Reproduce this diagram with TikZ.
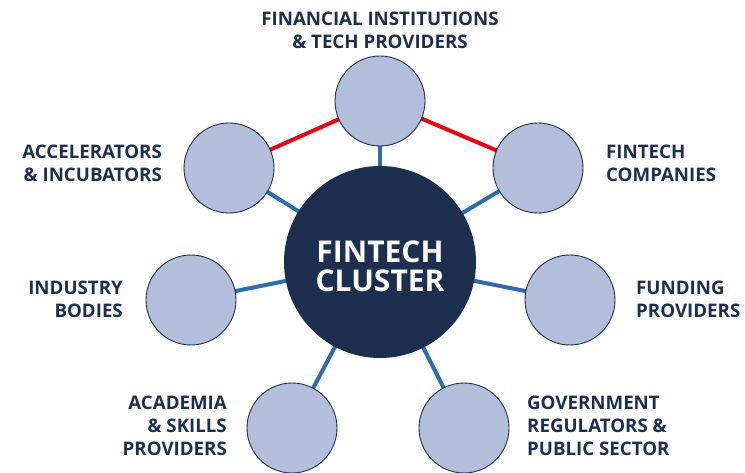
\documentclass[tikz,border=0pt]{standalone}
\usepackage{fontspec}
\setmainfont{Open Sans}
\usepackage{tikz}
\usetikzlibrary{positioning}
\usetikzlibrary{backgrounds}

\definecolor{clusternavy}{HTML}{1C2F4F}
\definecolor{spokefill}{HTML}{B3BEDB}
\definecolor{spokeblue}{HTML}{2E6DA8}
\definecolor{linkred}{HTML}{E30613}

\begin{document}
\begin{tikzpicture}[x=1pt, y=-1pt,
hubnode/.style={circle, fill=clusternavy, minimum size=192pt, inner sep=0pt},
hubtext/.style={inner sep=0pt, text=white, font=\bfseries\fontsize{30}{29}\selectfont, align=center},
spokenode/.style={circle, draw=clusternavy, fill=spokefill, line width=0.9pt, minimum size=90pt, inner sep=0pt},
labelnode/.style={inner sep=0pt, text=clusternavy, font=\bfseries\fontsize{18.7}{22.7}\selectfont},
spokeline/.style={draw=spokeblue, line width=4pt},
redline/.style={draw=linkred, line width=4pt},
]
\useasboundingbox (0,0) rectangle (745,473);

%Nodes
\node[hubnode]   (cluster) at (380,262) {};
\node[hubtext]   (hubtxt)  at (380,266) {FINTECH\\CLUSTER};
\node[spokenode] (fin)     at (380,101) {};
\node[spokenode] (acc)     at (229,168) {};
\node[spokenode] (comp)    at (538,168) {};
\node[spokenode] (ind)     at (191,300) {};
\node[spokenode] (fund)    at (570,300) {};
\node[spokenode] (acad)    at (292,428) {};
\node[spokenode] (gov)     at (464,428) {};

%Labels
\node[labelnode, align=center]             (finlbl)  at (380,30)  {FINANCIAL INSTITUTIONS\\\& TECH PROVIDERS};
\node[labelnode, align=right, anchor=east] (acclbl)  at (162,163) {ACCELERATORS\\\& INCUBATORS};
\node[labelnode, align=left, anchor=west]  (complbl) at (606,163) {FINTECH\\COMPANIES};
\node[labelnode, align=right, anchor=east] (indlbl)  at (123,299) {INDUSTRY\\BODIES};
\node[labelnode, align=left, anchor=west]  (fundlbl) at (636,299) {FUNDING\\PROVIDERS};
\node[labelnode, align=right, anchor=east] (acadlbl) at (227,426) {ACADEMIA\\\& SKILLS\\PROVIDERS};
\node[labelnode, align=left, anchor=west]  (govlbl)  at (527,426) {GOVERNMENT\\REGULATORS \&\\PUBLIC SECTOR};

%Lines
\begin{scope}[on background layer]
\foreach \s in {fin,acc,comp,ind,fund,acad,gov}
  \draw[spokeline] (cluster.center) -- (\s.center);
\draw[redline] (fin.center) -- (acc.center);
\draw[redline] (fin.center) -- (comp.center);
\end{scope}
\end{tikzpicture}
\end{document}
